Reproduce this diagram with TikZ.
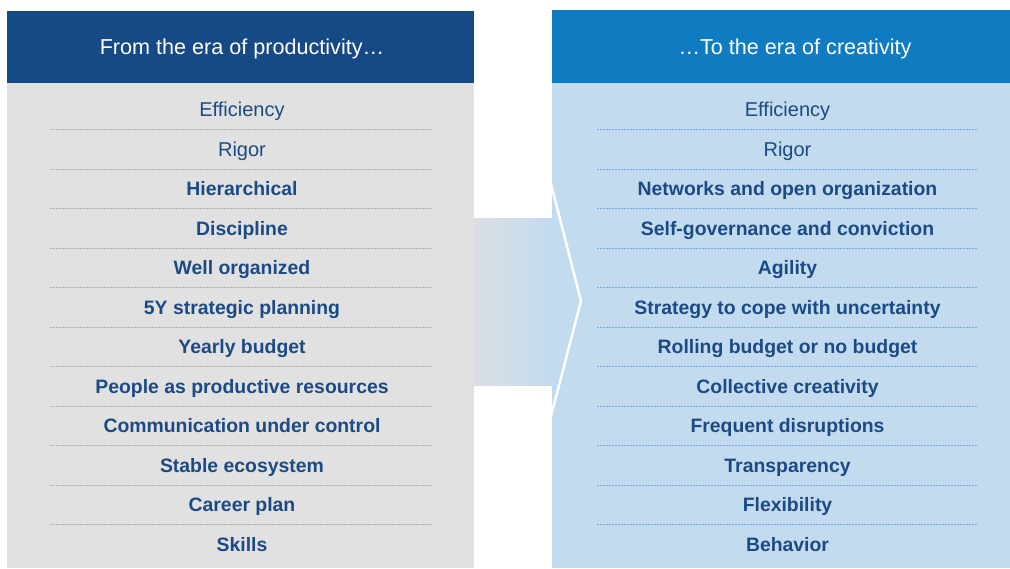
\documentclass[tikz,border=0pt]{standalone}
\usepackage{fontspec}
\setmainfont{Liberation Sans}
\usetikzlibrary{positioning}
\definecolor{kdark}{HTML}{164A86}
\definecolor{kmid}{HTML}{0F7CC2}
\definecolor{kgray}{HTML}{E1E1E1}
\definecolor{klight}{HTML}{C3DBEE}
\definecolor{ktext}{HTML}{1B4A86}
\definecolor{kbandl}{HTML}{DBDEE3}
\definecolor{ksepg}{HTML}{B0B0B0}
\definecolor{ksepb}{HTML}{78A9DC}

\begin{document}
\begin{tikzpicture}[x=0.5pt,y=-0.5pt,
    head/.style={text=white,anchor=base,font=\fontsize{10.8}{13}\selectfont},
    itembold/.style={text=ktext,anchor=base,font=\fontsize{9.7}{12}\selectfont\bfseries},
    itemreg/.style={text=ktext,anchor=base,font=\fontsize{10}{12}\selectfont},
    sepgray/.style={ksepg,line width=0.5pt,dash pattern=on 0.75pt off 0.75pt},
    sepblue/.style={ksepb,line width=0.5pt,dash pattern=on 0.75pt off 0.75pt}]
  \useasboundingbox (0,0) rectangle (1010,568);
  % band behind the arrow
  \shade[left color=kbandl,right color=klight] (474,218) rectangle (552,385);
  % the two panels
  \fill[kgray] (7,83) rectangle (474,568);
  \fill[kdark] (7,11) rectangle (474,83);
  \fill[klight] (552,83) rectangle (1010,568);
  \fill[kmid] (552,10) rectangle (1010,83);
  \draw[white,line width=1.2pt] (550,180) -- (581,301) -- (550,420);
  \node[head] (hl) at (242,54) {From the era of productivity\ldots};
  \node[head] (hr) at (795,54) {\ldots To the era of creativity};
  % rows
  \foreach \a/\b/\w [count=\i] in {
      Efficiency/Efficiency/itemreg,
      Rigor/Rigor/itemreg,
      Hierarchical/Networks and open organization/itembold,
      Discipline/Self-governance and conviction/itembold,
      Well organized/Agility/itembold,
      5Y strategic planning/Strategy to cope with uncertainty/itembold,
      Yearly budget/Rolling budget or no budget/itembold,
      People as productive resources/Collective creativity/itembold,
      Communication under control/Frequent disruptions/itembold,
      Stable ecosystem/Transparency/itembold,
      Career plan/Flexibility/itembold,
      Skills/Behavior/itembold} {
    \pgfmathsetmacro{\yy}{109+39.5*(\i-1)}
    \node[\w] (l\i) at (242,\yy+7.5) {\a};
    \node[\w] (r\i) at (787.5,\yy+7.5) {\b};
    \ifnum\i<12
      \draw[sepgray] (50,\yy+20.5) -- (432,\yy+20.5);
      \draw[sepblue] (597,\yy+20.5) -- (978,\yy+20.5);
    \fi
  }
\end{tikzpicture}
\end{document}
